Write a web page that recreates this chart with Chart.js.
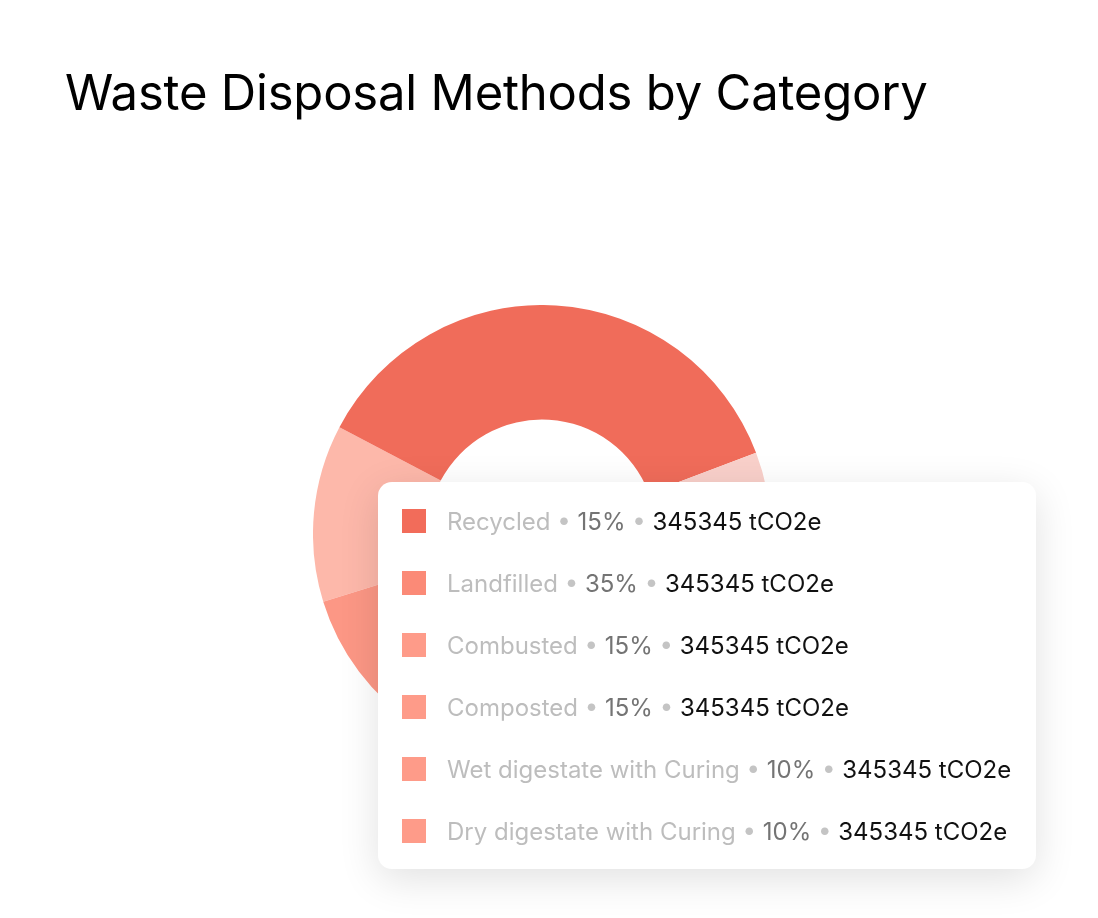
<!DOCTYPE html>
<html>
<head>
<meta charset="utf-8">
<script src="https://cdn.jsdelivr.net/npm/chart.js@4.4.1/dist/chart.umd.min.js"></script>
<style>
  html, body { margin: 0; padding: 0; background: #ffffff; }
  body { width: 1098px; height: 918px; position: relative; overflow: hidden; font-family: Inter, "Noto Sans", sans-serif; }
  #title { position: absolute; left: 65px; top: 63px; margin: 0; font-size: 49px; font-weight: 400; color: #000; letter-spacing: -0.2px; white-space: nowrap; }
  #chartWrap { position: absolute; left: 313px; top: 305px; width: 458px; height: 458px; }
  #legendBox { position: absolute; left: 378px; top: 482px; width: 658px; height: 387px; background: #fff; border-radius: 14px;
    box-shadow: 0 10px 40px rgba(0,0,0,0.12); box-sizing: border-box; padding-top: 27px; }
  .row { position: relative; height: 62px; }
  .sw { position: absolute; left: 24px; top: 0; width: 24px; height: 24px; }
  .txt { position: absolute; left: 69px; top: -2px; font-size: 24px; line-height: 30px; white-space: nowrap; }
  .lbl { color: #bdbdbd; }
  .dot { color: #c4c4c4; }
  .pct { color: #747474; }
  .val { color: #111111; }
</style>
</head>
<body>
<h1 id="title">Waste Disposal Methods by Category</h1>
<div id="chartWrap"><canvas id="c" width="458" height="458"></canvas></div>
<div id="legendBox"></div>
<script>
// ---- data ----
const categories = ['Recycled', 'Landfilled', 'Combusted', 'Composted', 'Wet digestate with Curing', 'Dry digestate with Curing'];
const sharePct = [15, 35, 15, 15, 10, 10];            // percentages printed in the legend
const emissions = [345345, 345345, 345345, 345345, 345345, 345345]; // tCO2e printed in the legend
const arcValues = [12.5, 36.5, 15, 15, 10, 11];        // arc sizes as drawn in the donut
const arcColors = ['#FDB8AA', '#F06C5A', '#F9D0CA', '#FBA797', '#FCA08F', '#FC9785'];
const swatchColors = ['#F26C5A', '#FB8A77', '#FE9B89', '#FE9B89', '#FE9B89', '#FE9B89'];
const unit = 'tCO2e';

// ---- legend panel ----
const box = document.getElementById('legendBox');
categories.forEach((name, i) => {
  const row = document.createElement('div');
  row.className = 'row';
  row.innerHTML = '<div class="sw" style="background:' + swatchColors[i] + '"></div>' +
    '<div class="txt"><span class="lbl">' + name + '</span> <span class="dot">\u2022</span> ' +
    '<span class="pct">' + sharePct[i] + '%</span> <span class="dot">\u2022</span> ' +
    '<span class="val">' + emissions[i] + ' ' + unit + '</span></div>';
  box.appendChild(row);
});

// ---- donut ----
new Chart(document.getElementById('c'), {
  type: 'doughnut',
  data: {
    labels: categories,
    datasets: [{
      data: arcValues,
      backgroundColor: arcColors,
      borderWidth: 0,
      hoverOffset: 0
    }]
  },
  options: {
    responsive: false,
    animation: false,
    events: [],
    cutout: '50%',
    rotation: -107.2,
    layout: { padding: 0 },
    plugins: { legend: { display: false }, tooltip: { enabled: false }, title: { display: false } }
  }
});
</script>
</body>
</html>
